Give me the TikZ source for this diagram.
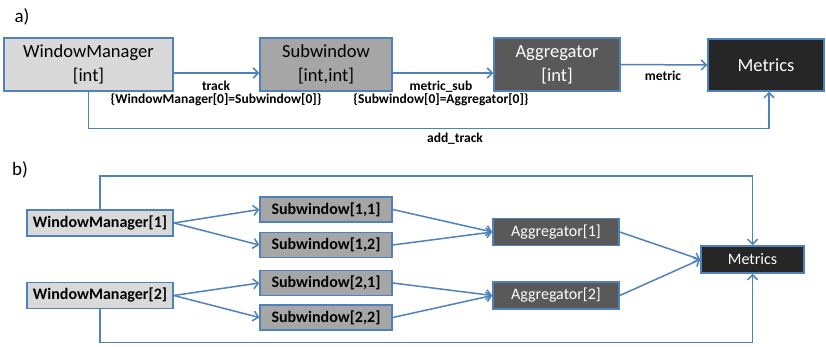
\documentclass[tikz,border=0pt]{standalone}
\usepackage{fontspec}
\setmainfont{Carlito}
\usepackage{tikz}
\usetikzlibrary{arrows.meta}
\tikzset{>={Straight Barb[length=5pt,width=10pt]}}
\definecolor{edgeblue}{HTML}{4F81BD}
\definecolor{lightbox}{HTML}{D9D9D9}
\definecolor{midbox}{HTML}{A6A6A6}
\definecolor{darkbox}{HTML}{595959}
\definecolor{blackbox}{HTML}{262626}
\tikzset{
  box/.style={draw=edgeblue, line width=1.5pt, inner sep=0pt, align=center},
  wmbox/.style={box, fill=lightbox},
  subbox/.style={box, fill=midbox},
  aggbox/.style={box, fill=darkbox, text=white},
  metbox/.style={box, fill=blackbox, text=white},
  link/.style={draw=edgeblue, line width=1.5pt, ->},
  lbl/.style={font=\fontsize{13.5}{13}\selectfont\bfseries, align=center, inner sep=0pt},
}

\begin{document}
\begin{tikzpicture}[x=1pt, y=-1pt]
            \useasboundingbox (0,0) rectangle (826,347);
            % a)
            \node[font=\fontsize{19}{20}\selectfont] (lbla) at (22,17) {a)};
            \node[wmbox, minimum width=169pt, minimum height=53pt, font=\fontsize{18.5}{24}\selectfont] (wm) at (88.5,64.5) {WindowManager\\{}[int]};
            \node[subbox, minimum width=132pt, minimum height=53pt, font=\fontsize{18.5}{24}\selectfont] (sub) at (326,64.5) {Subwindow\\{}[int,int]};
            \node[aggbox, minimum width=126pt, minimum height=53pt, font=\fontsize{18.5}{24}\selectfont] (agg) at (557,64.5) {Aggregator\\{}[int]};
            \node[metbox, minimum width=116pt, minimum height=52pt, font=\fontsize{18.5}{24}\selectfont] (met) at (766,65) {Metrics};
            \draw[link] ([yshift=-8.5pt]wm.east) -- ([yshift=-8.5pt]sub.west);
            \draw[link] ([yshift=-8.5pt]sub.east) -- ([yshift=-8.5pt]agg.west);
            \draw[link] (agg.east) -- (met.west);
            \draw[link] (wm.south) -- ++(0,37) -| ([xshift=3pt]met.south);
            \node[lbl] (trk) at (216,93.5) {track\\\{WindowManager[0]=Subwindow[0]\}};
            \node[lbl] (msub) at (441,93.5) {metric\_sub\\\{Subwindow[0]=Aggregator[0]\}};
            \node[lbl] (mtr) at (663,76) {metric};
            \node[lbl] (atr) at (455,139) {add\_track};
            % b)
            \node[font=\fontsize{19}{20}\selectfont] (lblb) at (20,170) {b)};
            \node[wmbox, minimum width=146pt, minimum height=26pt, font=\fontsize{16}{18}\selectfont\bfseries] (wm1) at (100,223) {WindowManager[1]};
            \node[wmbox, minimum width=146pt, minimum height=26pt, font=\fontsize{16}{18}\selectfont\bfseries] (wm2) at (100,295.5) {WindowManager[2]};
            \node[subbox, minimum width=132pt, minimum height=25pt, font=\fontsize{16}{18}\selectfont\bfseries] (s11) at (326,209.5) {Subwindow[1,1]};
            \node[subbox, minimum width=132pt, minimum height=25pt, font=\fontsize{16}{18}\selectfont\bfseries] (s12) at (326,245) {Subwindow[1,2]};
            \node[subbox, minimum width=132pt, minimum height=25pt, font=\fontsize{16}{18}\selectfont\bfseries] (s21) at (326,283) {Subwindow[2,1]};
            \node[subbox, minimum width=132pt, minimum height=25pt, font=\fontsize{16}{18}\selectfont\bfseries] (s22) at (326,317.5) {Subwindow[2,2]};
            \node[aggbox, minimum width=126pt, minimum height=27pt, font=\fontsize{16}{18}\selectfont] (a1) at (556,232) {Aggregator[1]};
            \node[aggbox, minimum width=126pt, minimum height=27pt, font=\fontsize{16}{18}\selectfont] (a2) at (556,295.5) {Aggregator[2]};
            \node[metbox, minimum width=103pt, minimum height=27pt, font=\fontsize{16}{18}\selectfont] (m) at (752.5,259.5) {Metrics};
            \draw[link] (wm1.east) -- (s11.west);
            \draw[link] (wm1.east) -- (s12.west);
            \draw[link] (wm2.east) -- (s21.west);
            \draw[link] (wm2.east) -- (s22.west);
            \draw[link] (s11.east) -- (a1.west);
            \draw[link] (s12.east) -- (a1.west);
            \draw[link] (s21.east) -- (a2.west);
            \draw[link] (s22.east) -- (a2.west);
            \draw[link] (a1.east) -- (m.west);
            \draw[link] (a2.east) -- (m.west);
            \draw[link] (wm1.north) -- ++(0,-33) -| (m.north);
            \draw[link] (wm2.south) -- ++(0,33) -| (m.south);
        \end{tikzpicture}
\end{document}
